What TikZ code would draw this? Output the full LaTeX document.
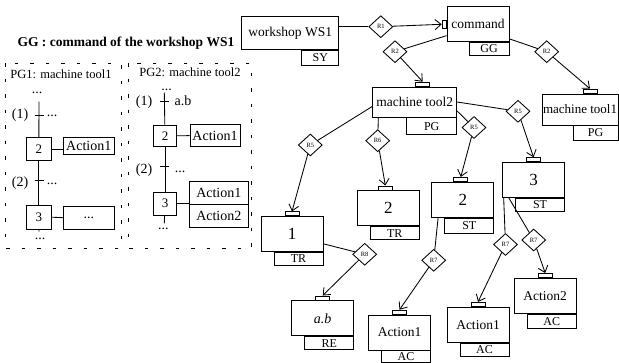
\documentclass[tikz,border=0pt]{standalone}
\usepackage{fontspec}
\setmainfont{Liberation Serif}
\usetikzlibrary{shapes.geometric,arrows.meta}

\begin{document}
\begin{tikzpicture}[x=1pt,y=-1pt,line width=0.85pt,
    >={Straight Barb[length=6pt,width=10pt]},
    ent/.style={draw,fill=white,minimum width=62pt,minimum height=35pt,inner sep=1pt,font=\fontsize{13.5}{13.5}\selectfont},
    num/.style={ent,font=\fontsize{17}{17}\selectfont},
    tag/.style={draw,fill=white,minimum width=49pt,minimum height=13pt,inner sep=0pt,font=\fontsize{12}{12}\selectfont},
    port/.style={draw,fill=white,minimum width=14pt,minimum height=4pt,inner sep=0pt},
    rel/.style={draw,diamond,fill=white,minimum width=24pt,minimum height=22pt,inner sep=0pt,font=\fontsize{6.5}{6.5}\selectfont},
    stp/.style={draw,minimum width=25.7pt,minimum height=23.4pt,inner sep=0pt,font=\fontsize{13}{13}\selectfont},
    act/.style={draw,minimum width=51pt,minimum height=16.7pt,inner sep=0pt,font=\fontsize{14}{14}\selectfont},
    txt/.style={inner sep=0pt,font=\fontsize{14}{14}\selectfont},
    pnl/.style={dashed,dash pattern=on 3.5pt off 12pt,line width=1pt}]

    \useasboundingbox (0,0) rectangle (619,362);

    \node[font=\bfseries\fontsize{13.5}{13.5}\selectfont] (title) at (126,43.5) {GG : command of the workshop WS1};
    \draw[pnl] (5,63) rectangle (121,248);
    \draw[pnl] (128,63) rectangle (251.7,248);
    \node[font=\fontsize{12.5}{12.5}\selectfont] (pg1) at (61,74) {PG1: machine tool1};
    \node[font=\fontsize{12.5}{12.5}\selectfont] (pg2) at (190,72.5) {PG2: machine tool2};

    \node[txt,anchor=base] (p1dots) at (37,93) {...};
    \coordinate (p1top) at (39,101.7);
    \coordinate (p1t1) at (39,115);
    \coordinate (p1t2) at (39,180.7);
    \coordinate (p1bot) at (39,231.7);
    \node[stp] (p1s2) at (38.8,149) {2};
    \node[stp,minimum height=24.3pt] (p1s3) at (38.8,217.2) {3};
    \node[act] (p1a2) at (88.8,145.7) {Action1};
    \node[act,minimum height=23.3pt] (p1a3) at (88.8,217.7) {...};
    \draw (p1top) -- (p1s2);
    \draw (p1s2) -- (p1s3);
    \draw (p1s3) -- (p1bot);
    \draw ([xshift=-4.5pt]p1t1) -- ([xshift=4.5pt]p1t1);
    \draw ([xshift=-4.5pt]p1t2) -- ([xshift=4.5pt]p1t2);
    \draw (p1s2.east) -- (p1s2.east -| p1a2.west);
    \draw (p1s3.east) -- (p1a3.west);
    \node[txt] (p1l1) at (20,115) {(1)};
    \node[txt] (p1c1) at (52,116) {...};
    \node[txt] (p1l2) at (20,183) {(2)};
    \node[txt] (p1c2) at (52,184) {...};
    \node[txt] (p1end) at (40,239) {...};

    \node[txt,anchor=base] (p2dots) at (166.7,90.5) {...};
    \coordinate (p2top) at (164.3,92.5);
    \coordinate (p2t1) at (164.3,101.5);
    \coordinate (p2t2) at (164.3,166.7);
    \coordinate (p2bot) at (164.3,223.3);
    \node[stp,minimum width=23.4pt,minimum height=21.7pt] (p2s2) at (165,135.8) {2};
    \node[stp,minimum width=23.4pt,minimum height=22.7pt] (p2s3) at (165,203.7) {3};
    \node[act,minimum width=50pt,minimum height=22.4pt] (p2a2) at (215,135.5) {Action1};
    \node[act,minimum width=59pt,minimum height=22.3pt] (p2a3) at (218.8,192.8) {Action1};
    \node[act,minimum width=59pt,minimum height=22.3pt,anchor=north] (p2a4) at (p2a3.south) {Action2};
    \draw (p2top) -- (p2s2);
    \draw (p2s2) -- (p2s3);
    \draw (p2s3) -- (p2bot);
    \draw ([xshift=-4.5pt]p2t1) -- ([xshift=4.5pt]p2t1);
    \draw ([xshift=-4.5pt]p2t2) -- ([xshift=4.5pt]p2t2);
    \draw (p2s2) -- (p2a2);
    \draw (p2s3.east) -- (p2s3.east -| p2a3.south west);
    \node[txt] (p2l1) at (144,102.5) {(1)};
    \node[txt] (p2c1) at (183,101) {a.b};
    \node[txt] (p2l2) at (144,170) {(2)};
    \node[txt] (p2c2) at (180,172) {...};
    \node[txt] (p2end) at (163.3,229) {...};

    \node[ent,minimum width=97pt,minimum height=33pt] (ws) at (290.3,33) {workshop WS1};
    \node[tag,minimum width=37pt,minimum height=14.7pt,anchor=north east] (wsT) at (ws.south east) {SY};
    \node[ent] (cmd) at (478,24.2) {command};
    \node[tag,minimum width=40pt,anchor=north east] (cmdT) at (cmd.south east) {GG};
    \node[port,minimum width=4pt,minimum height=7.5pt,anchor=east] (cmdP) at (cmd.west) {};
    \node[ent,minimum width=84pt,minimum height=30pt] (mt2) at (414.7,102) {machine tool2};
    \node[tag,minimum width=50pt,minimum height=17pt,anchor=north east] (mt2T) at (mt2.south east) {PG};
    \node[port,anchor=south] (mt2P) at ([xshift=8pt]mt2.north) {};
    \node[ent,minimum width=76pt,minimum height=31pt,font=\fontsize{13}{13}\selectfont] (mt1) at (580,109.5) {machine tool1};
    \node[tag,minimum width=45pt,minimum height=14.3pt,anchor=north east] (mt1T) at (mt1.south east) {PG};
    \node[port,anchor=south] (mt1P) at ([xshift=10pt]mt1.north) {};

    \node[num] (t1) at (292,234.2) {1};
    \node[tag,anchor=north east] (t1T) at (t1.south east) {TR};
    \node[port,anchor=south] (t1P) at (t1.north) {};
    \node[num] (t2) at (388.3,208.3) {2};
    \node[tag,anchor=north east] (t2T) at (t2.south east) {TR};
    \node[port,anchor=south] (t2P) at ([xshift=-3pt]t2.north) {};
    \node[num] (s2) at (462.8,199.7) {2};
    \node[tag,minimum height=15pt,anchor=north east] (s2T) at (s2.south east) {ST};
    \node[port,anchor=south] (s2P) at ([xshift=-2pt]s2.north) {};
    \node[num] (s3) at (533.5,180) {3};
    \node[tag,anchor=north east] (s3T) at (s3.south east) {ST};
    \node[port,anchor=south] (s3P) at (s3.north) {};

    \node[ent,font=\itshape\fontsize{14}{14}\selectfont] (ab) at (322.7,318.3) {a.b};
    \node[tag,anchor=north east] (abT) at (ab.south east) {RE};
    \node[port,anchor=south] (abP) at (ab.north) {};
    \node[ent] (ac1) at (399.5,332.5) {Action1};
    \node[tag,minimum height=12pt,anchor=north east] (ac1T) at (ac1.south east) {AC};
    \node[port,anchor=south] (ac1P) at (ac1.north) {};
    \node[ent] (ac2) at (478,324.7) {Action1};
    \node[tag,anchor=north east] (ac2T) at (ac2.south east) {AC};
    \node[port,anchor=south] (ac2P) at (ac2.north) {};
    \node[ent] (ac3) at (545.2,295.8) {Action2};
    \node[tag,minimum height=14pt,anchor=north east] (ac3T) at (ac3.south east) {AC};
    \node[port,anchor=south] (ac3P) at (ac3.north) {};

    \node[rel] (r1) at (380.8,26.7) {R1};
    \node[rel] (r2a) at (395,51.7) {R2};
    \node[rel] (r2b) at (546.7,51.7) {R2};
    \node[rel] (r5a) at (518,111.3) {R5};
    \node[rel] (r5b) at (474,127.5) {R5};
    \node[rel] (r5c) at (310.3,145) {R5};
    \node[rel] (r6) at (377.7,140.7) {R6};
    \node[rel] (r8) at (364.7,254.3) {R8};
    \node[rel] (r7a) at (433.7,260.3) {R7};
    \node[rel] (r7b) at (505.5,244.5) {R7};
    \node[rel] (r7c) at (533.7,240) {R7};

    \draw (ws.east |- r1) -- (r1);
    \draw[->] (r1) -- (cmdP);
    \draw (cmd.200) -- (r2a);
    \draw[->] (r2a) -- (mt2P.north);
    \draw (cmd.-25) -- (r2b);
    \draw[->] (r2b) -- (mt1P.north);
    \draw (mt2.east) -- (r5a);
    \draw[->] (r5a) -- (s3P.north);
    \draw (mt2.-12) -- (r5b);
    \draw[->] (r5b) -- (s2P.north);
    \draw (mt2.186) -- (r5c);
    \draw[->] (r5c) -- (t1P.north);
    \draw (mt2.203) -- (r6);
    \draw[->] (r6) -- (t2P.north);
    \draw (t1.-17) -- (r8);
    \draw[->] (r8) -- (abP.north);
    \draw (s2.216) -- (r7a);
    \draw[->] (r7a) -- (ac1P.north);
    \draw (s3.211) -- (r7b);
    \draw[->] (r7b) -- (ac2P.north);
    \draw (s3.216) -- (r7c);
    \draw[->] (r7c) -- (ac3P.north);

\end{tikzpicture}
\end{document}
